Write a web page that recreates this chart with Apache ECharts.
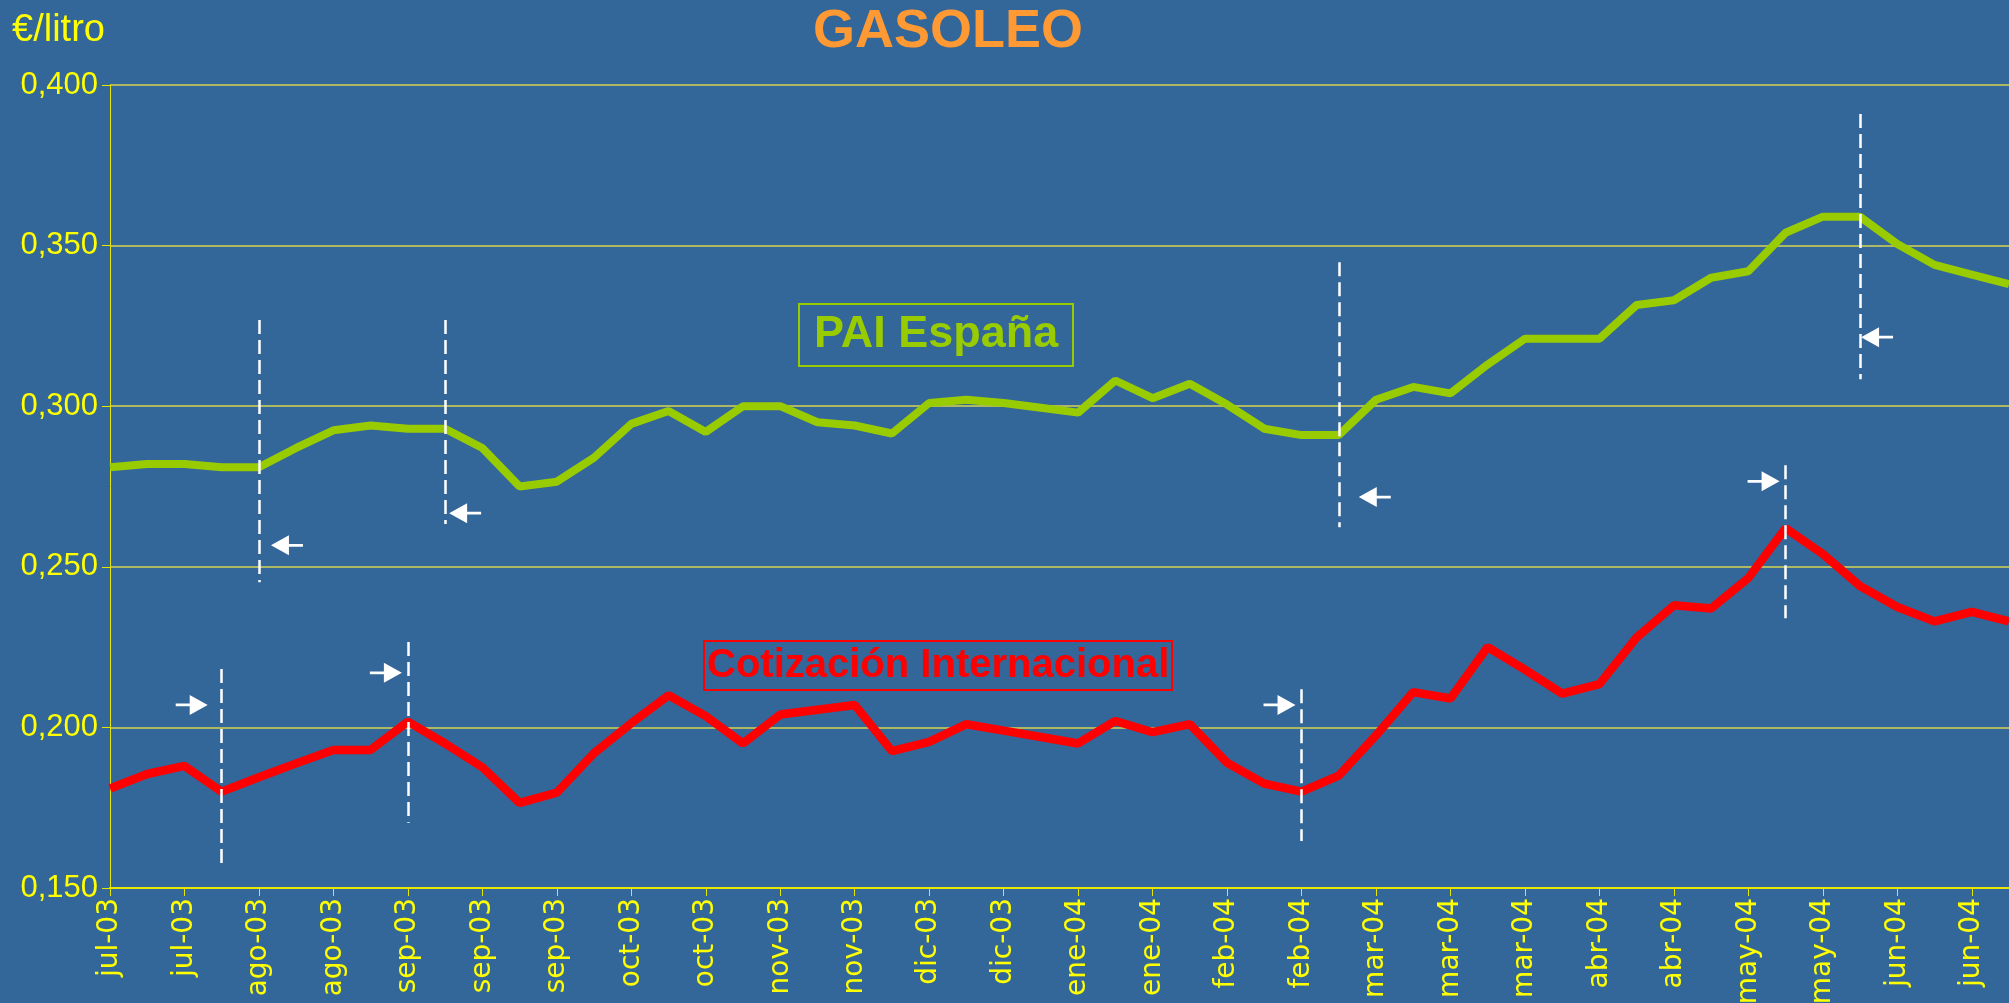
<!DOCTYPE html>
<html>
<head>
<meta charset="utf-8">
<script src="https://cdn.jsdelivr.net/npm/echarts@6/dist/echarts.min.js"></script>
<style>
html, body { margin: 0; padding: 0; background: #336699; }
#main { width: 2009px; height: 1003px; }
</style>
</head>
<body>
<div id="main"></div>
<script>
// semanas jul-03 .. jun-04 (una etiqueta cada dos semanas)
var semanas = [
  'jul-03','jul-03','jul-03','jul-03','ago-03','ago-03','ago-03','ago-03',
  'sep-03','sep-03','sep-03','sep-03','sep-03','oct-03','oct-03','oct-03','oct-03',
  'nov-03','nov-03','nov-03','nov-03','dic-03','dic-03','dic-03','dic-03','dic-03',
  'ene-04','ene-04','ene-04','ene-04','feb-04','feb-04','feb-04','feb-04',
  'mar-04','mar-04','mar-04','mar-04','mar-04','abr-04','abr-04','abr-04','abr-04',
  'may-04','may-04','may-04','may-04','may-04','jun-04','jun-04','jun-04','jun-04'
];

// PAI España (€/litro)
var paiEspana = [
  0.281, 0.282, 0.282, 0.281, 0.281, 0.287, 0.2925, 0.294, 0.293, 0.293,
  0.287, 0.275, 0.2765, 0.284, 0.2945, 0.2985, 0.292, 0.300, 0.300, 0.295,
  0.294, 0.2915, 0.301, 0.302, 0.301, 0.2995, 0.298, 0.308, 0.3025, 0.307,
  0.3005, 0.293, 0.291, 0.291, 0.302, 0.306, 0.304, 0.313, 0.321, 0.321,
  0.321, 0.3315, 0.333, 0.340, 0.342, 0.354, 0.359, 0.359, 0.3505, 0.344,
  0.341, 0.338
];

// Cotización Internacional (€/litro)
var cotizacion = [
  0.181, 0.1855, 0.188, 0.180, 0.1845, 0.1888, 0.193, 0.193, 0.2018, 0.195,
  0.1876, 0.1765, 0.1797, 0.192, 0.2013, 0.210, 0.2035, 0.195, 0.204, 0.2055,
  0.207, 0.1926, 0.1955, 0.201, 0.199, 0.197, 0.195, 0.202, 0.1985, 0.201,
  0.189, 0.1825, 0.180, 0.185, 0.1975, 0.211, 0.209, 0.225, 0.218, 0.2105,
  0.2135, 0.228, 0.238, 0.237, 0.2465, 0.262, 0.254, 0.244, 0.2375, 0.233,
  0.236, 0.233
];

// marcas: semana, tramo vertical (desde, hasta), altura de la flecha, desplazamiento px
var marcasPai = [
  [4, 0.3268, 0.2452, 0.2567, 28],
  [9, 0.3268, 0.2633, 0.2667, 20],
  [33, 0.3448, 0.2623, 0.2717, 36],
  [47, 0.3910, 0.3084, 0.3215, 17]
];
var marcasCot = [
  [3, 0.2182, 0.1566, 0.2070, -30],
  [8, 0.2266, 0.1703, 0.2170, -22],
  [32, 0.2119, 0.1646, 0.2070, -22],
  [45, 0.2816, 0.2340, 0.2766, -22]
];

var flechaIzq = 'path://M0,10 L18,0 L18,8.6 L32,8.6 L32,11.4 L18,11.4 L18,20 Z';
var flechaDer = 'path://M32,10 L14,0 L14,8.6 L0,8.6 L0,11.4 L14,11.4 L14,20 Z';

function lineas(m) {
  return m.map(function (d) {
    return [{ coord: [d[0], d[1]] }, { coord: [d[0], d[2]] }];
  });
}
function flechas(m, sym) {
  return m.map(function (d) {
    return { coord: [d[0], d[3]], symbol: sym, symbolSize: [32, 20], symbolOffset: [d[4], 0] };
  });
}

var myChart = echarts.init(document.getElementById('main'));
var option = {
  backgroundColor: '#336699',
  animation: false,
  title: [
    { text: 'GASOLEO', left: 808, top: 0,
      textStyle: { color: '#ff9933', fontSize: 54, fontWeight: 'bold', fontFamily: 'Liberation Sans',
        textShadowColor: '#000', textShadowOffsetX: 3, textShadowOffsetY: 3, textShadowBlur: 0 } },
    { text: '€/litro', left: 7, top: 7,
      textStyle: { color: '#ffff00', fontSize: 38, fontWeight: 'normal', fontFamily: 'Liberation Sans' } },
    { text: 'PAI España', left: 799, top: 304, padding: [6, 15], borderColor: '#99cc00', borderWidth: 2,
      textStyle: { color: '#99cc00', fontSize: 45, lineHeight: 50, fontWeight: 'bold', fontFamily: 'Liberation Sans' } },
    { text: 'Cotización Internacional', left: 704, top: 641, padding: [2, 3], borderColor: '#ff0000', borderWidth: 2,
      textStyle: { color: '#ff0000', fontSize: 40, lineHeight: 45, fontWeight: 'bold', fontFamily: 'Liberation Sans' } }
  ],
  grid: { left: 110, right: 0, top: 85, bottom: 115, containLabel: false, outerBoundsMode: 'none' },
  xAxis: {
    type: 'category',
    data: semanas,
    boundaryGap: false,
    axisLine: { lineStyle: { color: '#e6e600', width: 2 } },
    axisTick: { interval: 1, length: 8, lineStyle: { color: '#e6e600' } },
    axisLabel: { interval: 1, rotate: 90, margin: 10, color: '#ffff00', fontSize: 28, fontFamily: 'DejaVu Sans' },
    splitLine: { show: false }
  },
  yAxis: {
    type: 'value',
    min: 0.15,
    max: 0.4,
    interval: 0.05,
    axisLine: { show: true, lineStyle: { color: '#e6e600', width: 1 } },
    axisTick: { show: true, length: 8, lineStyle: { color: '#e6e600' } },
    axisLabel: {
      color: '#ffff00', fontSize: 31, margin: 12, fontFamily: 'Liberation Sans',
      formatter: function (v) { return v.toFixed(3).replace('.', ','); }
    },
    splitLine: { lineStyle: { color: '#d6d650', width: 1.5 } }
  },
  series: [
    {
      name: 'PAI España', type: 'line', data: paiEspana, symbol: 'none',
      lineStyle: { color: '#99cc00', width: 8 },
      markLine: { silent: true, symbol: ['none', 'none'], label: { show: false },
        lineStyle: { color: '#ffffff', width: 2.5, type: [14, 6] }, data: lineas(marcasPai) },
      markPoint: { silent: true, label: { show: false }, itemStyle: { color: '#ffffff' },
        data: flechas(marcasPai, flechaIzq) }
    },
    {
      name: 'Cotización Internacional', type: 'line', data: cotizacion, symbol: 'none',
      lineStyle: { color: '#ff0000', width: 8.5 },
      markLine: { silent: true, symbol: ['none', 'none'], label: { show: false },
        lineStyle: { color: '#ffffff', width: 2.5, type: [14, 6] }, data: lineas(marcasCot) },
      markPoint: { silent: true, label: { show: false }, itemStyle: { color: '#ffffff' },
        data: flechas(marcasCot, flechaDer) }
    }
  ]
};
myChart.setOption(option, true);
</script>
</body>
</html>
